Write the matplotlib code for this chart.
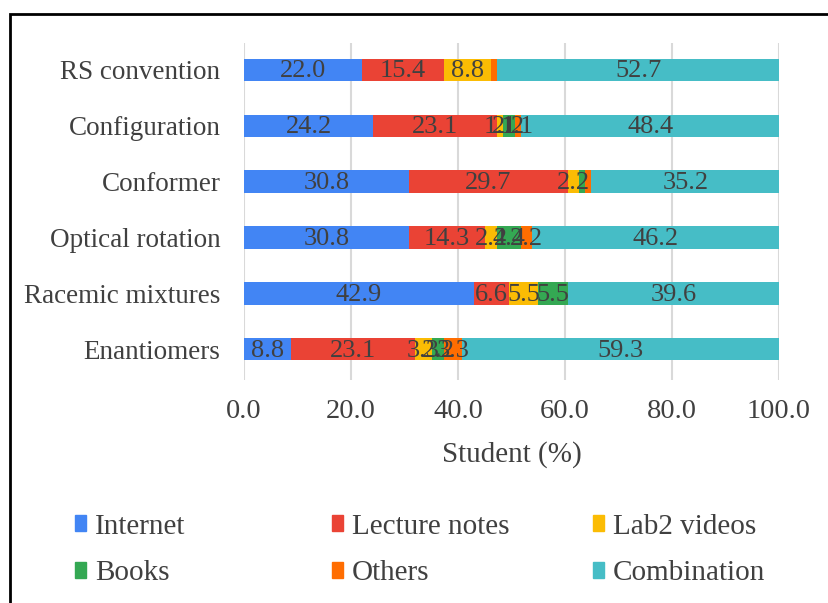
import matplotlib.pyplot as plt
from matplotlib.patches import Rectangle, Patch

plt.rcParams['font.family'] = ['Liberation Serif', 'DejaVu Serif']

topics = ['Enantiomers', 'Racemic mixtures', 'Optical rotation',
          'Conformer', 'Configuration', 'RS convention']
internet = [8.8, 42.9, 30.8, 30.8, 24.2, 22.0]
lecture = [23.1, 6.6, 14.3, 29.7, 23.1, 15.4]
lab2 = [3.3, 5.5, 2.2, 2.2, 1.1, 8.8]
books = [2.2, 5.5, 4.4, 1.1, 2.2, 0.0]
others = [3.3, 0.0, 2.2, 1.1, 1.1, 1.1]
combination = [59.3, 39.6, 46.2, 35.2, 48.4, 52.7]

names = ['Internet', 'Lecture notes', 'Lab2 videos', 'Books', 'Others', 'Combination']
colors = ['#4285F4', '#EA4335', '#FBBC04', '#34A853', '#FF6D01', '#46BDC6']
series = [internet, lecture, lab2, books, others, combination]
# labels that are not shown on the original chart: (series index, topic index)
hidden = {(3, 3), (4, 3), (4, 5)}

txt = '#404040'

fig = plt.figure(figsize=(8.29, 6.03), dpi=100)
ax = fig.add_axes([0.2943, 0.3698, 0.6454, 0.5589])

y = list(range(len(topics)))
left = [0.0] * len(topics)
for si, (vals, col) in enumerate(zip(series, colors)):
    ax.barh(y, vals, left=left, height=0.4, color=col, zorder=3)
    for ti, v in enumerate(vals):
        if v > 0 and (si, ti) not in hidden:
            ax.text(left[ti] + v / 2, y[ti] - 0.03, f'{v:.1f}', ha='center', va='center',
                    fontsize=19, color=txt, zorder=4)
    left = [a + b for a, b in zip(left, vals)]

ax.set_xlim(0, 100)
ax.set_ylim(-0.55, 5.48)
ax.set_xticks([0, 20, 40, 60, 80, 100])
ax.set_xticklabels(['0.0', '20.0', '40.0', '60.0', '80.0', '100.0'])
ax.set_yticks(y)
ax.set_yticklabels(topics)
ax.tick_params(axis='both', length=0, colors=txt)
ax.tick_params(axis='x', pad=14, labelsize=20.5)
ax.tick_params(axis='y', pad=17, labelsize=19.5)
ax.grid(axis='x', color='#d9d9d9', lw=1.5, zorder=0)
for s in ax.spines.values():
    s.set_visible(False)
ax.set_xlabel('Student (%)', fontsize=21, color=txt, labelpad=12)

# legend: three columns of two entries, placed as in the original
handles = [Patch(color=c) for c in colors]
col_x = [75, 332, 593]
for k in range(3):
    fig.legend([handles[k], handles[k + 3]], [names[k], names[k + 3]],
               loc='center left', bbox_to_anchor=(col_x[k] / 829, 1 - 550 / 603),
               frameon=False, fontsize=21, labelcolor=txt,
               handlelength=0.38, handleheight=0.5, handletextpad=0.3,
               labelspacing=0.72, borderpad=0, borderaxespad=0)

fig.patches.append(Rectangle((10 / 829, -0.1), 1.2, 1 - 14 / 603 + 0.1,
                             transform=fig.transFigure, fill=False,
                             edgecolor='black', lw=2))

fig.savefig('out.png', dpi=100)
